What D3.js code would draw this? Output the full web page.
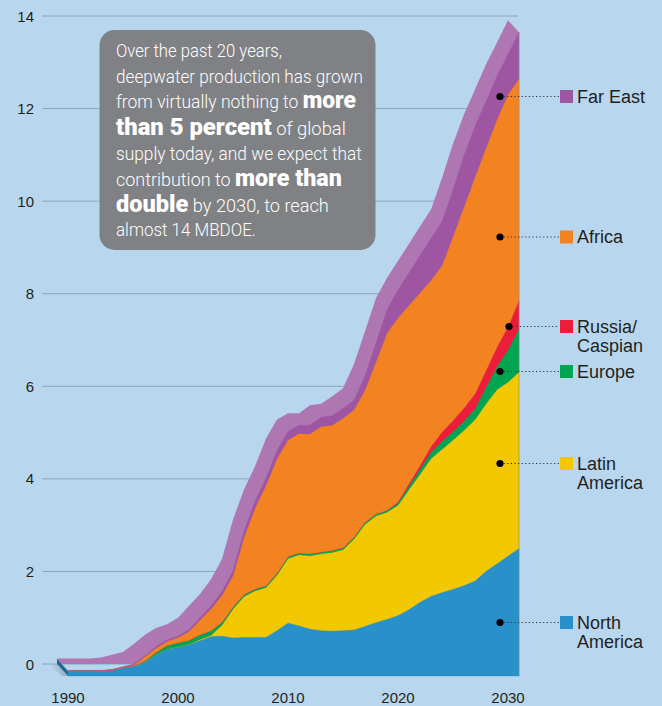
<!DOCTYPE html>
<html><head><meta charset="utf-8">
<script src="https://cdn.jsdelivr.net/npm/d3@7"></script>
<style>html,body{margin:0;padding:0;background:#b8d7ef;} svg{display:block}</style>
</head><body>
<svg id="chart" width="662" height="706"></svg>
<script>
// ---------------- DATA ----------------
const years = [1990,1991,1992,1993,1994,1995,1996,1997,1998,1999,
  2000,2001,2002,2003,2004,2005,2006,2007,2008,2009,
  2010,2011,2012,2013,2014,2015,2016,2017,2018,2019,
  2020,2021,2022,2023,2024,2025,2026,2027,2028,2029,
  2030,2031];
const northAmerica = [0.11,0.11,0.11,0.11,0.13,0.18,0.22,0.31,0.46,0.58,
  0.63,0.68,0.77,0.86,0.87,0.83,0.84,0.84,0.84,0.99,
  1.15,1.09,1.02,0.99,0.98,0.99,1.00,1.08,1.16,1.23,
  1.31,1.44,1.60,1.73,1.81,1.88,1.96,2.06,2.27,2.43,
  2.60,2.76];
const latinAmerica = [0,0,0,0,0,0,0,0,0,0,
  0,0,0.02,0.02,0.23,0.62,0.88,1.00,1.07,1.19,
  1.39,1.53,1.58,1.65,1.69,1.74,1.96,2.20,2.30,2.31,
  2.38,2.59,2.76,2.97,3.09,3.22,3.35,3.48,3.61,3.76,
  3.75,3.81];
const europe = [0,0,0,0,0,0,0,0.02,0.05,0.08,
  0.09,0.09,0.10,0.10,0.06,0.04,0.04,0.04,0.04,0.04,
  0.04,0.04,0.04,0.04,0.04,0.04,0.04,0.04,0.04,0.04,
  0.05,0.08,0.11,0.14,0.17,0.18,0.20,0.24,0.36,0.50,
  0.70,0.94];
const russiaCaspian = [0,0,0,0,0,0,0,0,0,0,
  0,0,0,0,0,0,0,0,0,0,
  0,0,0,0,0,0,0,0,0,0,
  0.02,0.05,0.08,0.12,0.20,0.24,0.28,0.32,0.36,0.42,
  0.50,0.60];
const africa = [0,0,0,0,0,0,0.02,0.09,0.09,0.09,
  0.11,0.19,0.32,0.47,0.59,0.68,1.24,1.75,2.17,2.48,
  2.52,2.58,2.59,2.71,2.71,2.80,2.75,2.86,3.29,3.83,
  3.98,3.85,3.73,3.59,3.60,3.98,4.35,4.68,4.81,4.92,
  5.01,4.80];
const farEast = [0.01,0.01,0.01,0.01,0.01,0.02,0.02,0.02,0.03,0.03,
  0.03,0.04,0.05,0.06,0.08,0.10,0.12,0.14,0.15,0.17,
  0.18,0.18,0.19,0.20,0.20,0.21,0.21,0.30,0.40,0.50,
  0.60,0.70,0.80,0.90,0.95,1.00,1.10,1.10,1.00,0.93,
  0.87,1.00];
const seriesNames = ["North America","Latin America","Europe","Russia/Caspian","Africa","Far East"];
const yTicks = [0,2,4,6,8,10,12,14];
const xTicks = [1990,2000,2010,2020,2030];
const legendOrder = ["Far East","Africa","Russia/Caspian","Europe","Latin America","North America"];
const legendLabels = [["Far East"],["Africa"],["Russia/","Caspian"],["Europe"],["Latin","America"],["North","America"]];
const calloutLines = [
  [["Over the past 20 years,",false]],
  [["deepwater production has grown",false]],
  [["from virtually nothing to ",false],["more",true]],
  [["than 5 percent",true],[" of global",false]],
  [["supply today, and we expect that",false]],
  [["contribution to ",false],["more than",true]],
  [["double",true],[" by 2030, to reach",false]],
  [["almost 14 MBDOE.",false]]
];

// ---------------- STYLE / LAYOUT ----------------
const W = 662, H = 706;
const colors = {
  "North America":"#2891c9","Latin America":"#f2c800","Europe":"#00a551",
  "Russia/Caspian":"#ec1c3a","Africa":"#f38220","Far East":"#9e55a2"
};
const topFace = "#ae77b2";
const bg = "#b8d7ef";
const DX = 11, DY = 12;
const labelFont = "'Liberation Sans', Arial, Helvetica, sans-serif";

const svg = d3.select("#chart");
svg.append("rect").attr("width",W).attr("height",H).attr("fill",bg);

const defs = svg.append("defs");
const grad = defs.append("linearGradient").attr("id","shadow").attr("x1","0").attr("x2","1").attr("y1","0").attr("y2","0");
grad.append("stop").attr("offset","0").attr("stop-color","#9aaabb").attr("stop-opacity",0);
grad.append("stop").attr("offset","1").attr("stop-color","#8596a8").attr("stop-opacity",0.7);

const x = d3.scaleLinear().domain([1990,2031]).range([68,519]);
const y = d3.scaleLinear().domain([0,14]).range([676,28]);

// gridlines (back wall)
svg.append("g").selectAll("line").data(yTicks).join("line")
  .attr("x1",42).attr("x2",518)
  .attr("y1",d=>y(d)-DY).attr("y2",d=>y(d)-DY)
  .attr("stroke","#8ca6bf").attr("stroke-width",1);

// y labels
svg.append("g").selectAll("text").data(yTicks).join("text")
  .attr("x",34).attr("y",d=>y(d)-DY+5.5)
  .attr("text-anchor","end").attr("font-family",labelFont).attr("font-size",15)
  .attr("fill","#231f20").text(d=>d);

// x labels
svg.append("g").selectAll("text").data(xTicks).join("text")
  .attr("x",d=>x(d)).attr("y",703)
  .attr("text-anchor","middle").attr("font-family",labelFont).attr("font-size",15)
  .attr("fill","#231f20").text(d=>d);

// stack
const table = years.map((yr,i)=>({year:yr,
  "North America":northAmerica[i],"Latin America":latinAmerica[i],"Europe":europe[i],
  "Russia/Caspian":russiaCaspian[i],"Africa":africa[i],"Far East":farEast[i]}));
const stacked = d3.stack().keys(seriesNames)(table);
const topSeries = stacked[stacked.length-1];

// soft shadow at the base, left of the block
const x0f = x(years[0]);
svg.append("path")
  .attr("d",`M${x0f-DX-10},${y(0)-DY}L${x0f-DX},${y(0)-DY}L${x0f},${y(0)}L${x0f-6},${y(0)}Z`)
  .attr("fill","url(#shadow)");

// extruded top face (back silhouette)
const backArea = d3.area().x(d=>x(d.data.year)-DX).y0(y(0)-DY).y1(d=>y(d[1])-DY);
svg.append("path").datum(topSeries).attr("d",backArea).attr("fill",topFace);
const last = topSeries[topSeries.length-1];
const xl = x(last.data.year), yl = y(last[1]);
svg.append("path")
  .attr("d",`M${xl-DX},${yl-DY}L${xl},${yl}L${xl},${y(0)}L${xl-DX},${y(0)-DY}Z`)
  .attr("fill",topFace);

// left side faces
stacked.forEach(s=>{
  const d = s[0];
  const xs = x(d.data.year), a = y(d[0]), b = y(d[1]);
  if (a - b > 0.01) {
    svg.append("path")
      .attr("d",`M${xs-DX},${b-DY}L${xs},${b}L${xs},${a}L${xs-DX},${a-DY}Z`)
      .attr("fill", s.key==="Far East" ? topFace : d3.color(colors[s.key]).darker(0.9));
  }
});

// front stacked areas
const area = d3.area().x(d=>x(d.data.year)).y0(d=>y(d[0])).y1(d=>y(d[1]));
svg.append("g").selectAll("path").data(stacked).join("path")
  .attr("d",area).attr("fill",d=>colors[d.key])
  .attr("stroke",d=>colors[d.key]).attr("stroke-width",0.4);

// right edge line
svg.append("line").attr("x1",xl).attr("x2",xl).attr("y1",yl).attr("y2",y(0))
  .attr("stroke","#7f8f86").attr("stroke-width",0.8).attr("opacity",0.7);

// callout box
const box = svg.append("g");
box.append("rect").attr("x",99.5).attr("y",30).attr("width",276).attr("height",220)
  .attr("rx",15).attr("fill","#808184");
const lineBase = [57.3,82.7,108.3,134.5,159.5,185.5,211.5,236];
const lineWidth = [166,247,240,230,246,226,213,140];
calloutLines.forEach((segs,i)=>{
  const t = box.append("text").attr("fill","#ffffff").style("white-space","pre");
  segs.forEach(([s,b])=>{
    t.append("tspan").text(s)
      .attr("font-family","Roboto, 'Liberation Sans', Arial, sans-serif")
      .attr("font-weight", b ? 900 : 300)
      .attr("font-size", b ? 24 : 18.5);
  });
  const w = t.node().getComputedTextLength();
  t.attr("transform",`translate(116,${lineBase[i]}) scale(${lineWidth[i]/w},1)`);
});

// legend
const legendY = [96.5,237,326.5,371.5,463.5,622.5];
const dotX = [500,500,509,500,500,500];
const leg = svg.append("g");
legendOrder.forEach((name,i)=>{
  const cy = legendY[i];
  leg.append("line").attr("x1",dotX[i]).attr("x2",559).attr("y1",cy).attr("y2",cy)
    .attr("stroke","#333").attr("stroke-width",1.1).attr("stroke-dasharray","1.2,2.4");
  leg.append("circle").attr("cx",dotX[i]).attr("cy",cy).attr("r",3.6).attr("fill","#000");
  leg.append("rect").attr("x",560).attr("y",cy-6.5).attr("width",13).attr("height",13)
    .attr("fill",colors[name]);
  const t = leg.append("text").attr("font-family",labelFont).attr("font-size",18).attr("fill","#231f20");
  legendLabels[i].forEach((ln,j)=>{
    t.append("tspan").attr("x",577).attr("y",cy+6.3+j*19.5).text(ln);
  });
});
</script>
</body></html>
